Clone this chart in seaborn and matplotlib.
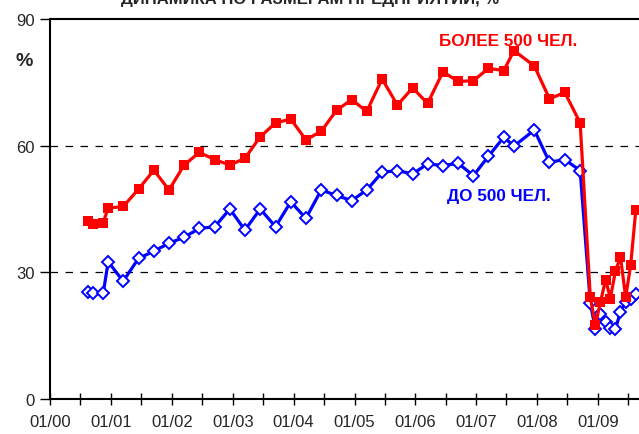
import matplotlib
matplotlib.use("Agg")
import matplotlib.pyplot as plt
import matplotlib.dates as mdates
import numpy as np
import pandas as pd
import seaborn as sns

# survey months (points sit mid-month)
months = ["2000-08", "2000-09", "2000-11", "2000-12",
          "2001-03", "2001-06", "2001-09", "2001-12",
          "2002-03", "2002-06", "2002-09", "2002-12",
          "2003-03", "2003-06", "2003-09", "2003-12",
          "2004-03", "2004-06", "2004-09", "2004-12",
          "2005-03", "2005-06", "2005-09", "2005-12",
          "2006-03", "2006-06", "2006-09", "2006-12",
          "2007-03", "2007-06", "2007-08", "2007-12",
          "2008-03", "2008-06", "2008-09", "2008-11", "2008-12",
          "2009-01", "2009-02", "2009-03", "2009-04", "2009-05",
          "2009-06", "2009-07", "2009-08"]

bolee_500 = [42.2, 41.4, 41.8, 45.2,
             45.6, 49.7, 54.2, 49.5,
             55.4, 58.4, 56.7, 55.4,
             57.0, 62.1, 65.4, 66.3,
             61.4, 63.4, 68.4, 70.9,
             68.1, 75.8, 69.6, 73.7,
             70.0, 77.5, 75.2, 75.4,
             78.3, 77.8, 82.5, 78.9,
             71.1, 72.6, 65.4, 24.1, 17.5,
             23.0, 28.3, 23.8, 30.4, 33.6,
             24.1, 31.7, 44.8]

do_500 = [25.4, 25.0, 25.0, 32.5,
          27.9, 33.3, 35.0, 36.9,
          38.3, 40.4, 40.8, 45.0,
          40.0, 45.0, 40.8, 46.7,
          42.8, 49.5, 48.2, 47.0,
          49.5, 53.7, 54.1, 53.3,
          55.7, 55.3, 55.8, 52.9,
          57.5, 62.0, 59.9, 63.7,
          56.1, 56.7, 54.1, 22.7, 16.6,
          20.1, 18.3, 16.8, 16.6, 20.7,
          23.0, 23.7, 24.9]

y_ticks = [0, 30, 60, 90]

df = pd.DataFrame({
    "date": pd.to_datetime(months) + pd.Timedelta(days=14),
    "bolee": bolee_500,
    "do": do_500,
})

sns.set_style("white")
plt.rcParams['font.family'] = ['Liberation Sans', 'DejaVu Sans']

fig = plt.figure(figsize=(6.39, 4.35), dpi=100)
ax = fig.add_axes([50 / 639, 35 / 435, 589 / 639, 380 / 435])

sns.lineplot(data=df, x="date", y="do", ax=ax, color="#0000ff", linewidth=2.3,
             marker="D", markersize=6.3, markerfacecolor="white",
             markeredgecolor="#0000ff", markeredgewidth=1.4)
sns.lineplot(data=df, x="date", y="bolee", ax=ax, color="#ff0000", linewidth=2.3,
             marker="s", markersize=6.8, markeredgewidth=0)

for v in [30, 60]:
    ax.axhline(v, color="black", linewidth=0.9, linestyle=(0, (6, 6)), zorder=0)

ax.set_ylim(0, 90)
ax.set_yticks(y_ticks)
ax.set_xlim(pd.Timestamp("2000-01-01"), pd.Timestamp("2009-09-03"))
ax.xaxis.set_major_locator(mdates.YearLocator())
ax.xaxis.set_minor_locator(mdates.MonthLocator(bymonth=7))
ax.xaxis.set_major_formatter(mdates.DateFormatter("%m/%y"))
ax.set_xlabel("")
ax.set_ylabel("")

ax.tick_params(axis="y", which="major", direction="out", length=7, width=1,
               color="black", labelsize=12, left=True, pad=4)
ax.tick_params(axis="x", which="both", direction="inout", length=9, width=1,
               color="black", labelsize=12, bottom=True, pad=6)

for side in ["left", "bottom", "top"]:
    ax.spines[side].set_color("black")
    ax.spines[side].set_linewidth(1.5)
ax.spines["right"].set_visible(False)

ax.text(pd.Timestamp("2007-07-10"), 85.0, "БОЛЕЕ 500 ЧЕЛ.", color="#ff0000",
        fontsize=12.3, fontweight="bold", ha="center", va="center",
        family=["Liberation Sans Narrow", "Liberation Sans"])
ax.text(pd.Timestamp("2007-05-15"), 48.3, "ДО 500 ЧЕЛ.", color="#0000ff",
        fontsize=12.3, fontweight="bold", ha="center", va="center",
        family=["Liberation Sans Narrow", "Liberation Sans"])

fig.text(24 / 639, 1 - 62 / 435, "%", fontsize=14, fontweight="bold",
         ha="center", va="center")
fig.text(310 / 639, 1 - 4 / 435, "ДИНАМИКА ПО РАЗМЕРАМ ПРЕДПРИЯТИЙ, %",
         fontsize=12, fontweight="bold", ha="center", va="baseline")

fig.savefig("out.png", dpi=100)
